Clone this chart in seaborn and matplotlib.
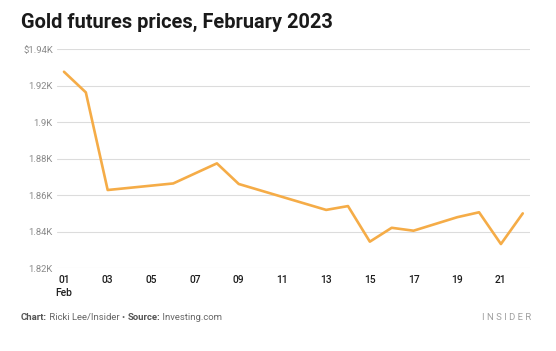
import pandas as pd
import seaborn as sns
import matplotlib.pyplot as plt

# Gold futures, Feb 2023
days = [1, 2, 3, 6, 8, 9, 13, 14, 15, 16, 17, 19, 20, 21, 22]
prices = [1927.7, 1916.4, 1862.9, 1866.5, 1877.5, 1866.2, 1852.0, 1854.1,
          1834.6, 1842.2, 1840.6, 1848.0, 1850.7, 1833.3, 1850.1]

y_ticks = [1820, 1840, 1860, 1880, 1900, 1920, 1940]
y_labels = ['1.82K', '1.84K', '1.86K', '1.88K', '1.9K', '1.92K', '$1.94K']
x_ticks = [1, 3, 5, 7, 9, 11, 13, 15, 17, 19, 21]
x_labels = ['01\nFeb', '03', '05', '07', '09', '11', '13', '15', '17', '19', '21']

title = 'Gold futures prices, February 2023'
LINE = '#F5AC47'


def main():
    df = pd.DataFrame({'day': days, 'price': prices})

    sns.set_theme(style='white')
    plt.rcParams['font.family'] = ['Roboto', 'DejaVu Sans']

    fig = plt.figure(figsize=(5.56, 3.51), dpi=100)
    ax = fig.add_axes([0.1025, 0.2356, 0.8507, 0.6239])

    sns.lineplot(data=df, x='day', y='price', ax=ax, color=LINE, linewidth=1.9)

    ax.set_xlim(0.68, 22.33)
    ax.set_ylim(1820, 1940)
    ax.set_yticks(y_ticks)
    ax.set_yticklabels(y_labels, color='#8a8a8a', fontsize=6.8)
    ax.set_xticks(x_ticks)
    ax.set_xticklabels(x_labels, color='#1e1e1e', fontsize=7.4, linespacing=1.3,
                       va='top', fontweight='medium')
    ax.tick_params(axis='y', length=0, pad=3)
    ax.tick_params(axis='x', length=0, pad=5)

    ax.grid(axis='y', color='#dcdcdc', linewidth=0.8)
    ax.set_axisbelow(True)
    sns.despine(ax=ax, left=True, bottom=True)
    ax.set_xlabel('')
    ax.set_ylabel('')

    fig.text(21 / 556, 1 - 22 / 351, title, fontsize=14.4, fontweight='bold',
             color='#1a1a1a', va='center', ha='left')

    # footer
    t1 = fig.text(21 / 556, 1 - 317 / 351, 'Chart:', fontsize=6.8,
                  fontweight='bold', color='#555555', va='center')
    t2 = ax.annotate(' Ricki Lee/Insider \u2022 ', xy=(1, 0.5), xycoords=t1,
                     fontsize=6.8, color='#666666', va='center')
    t3 = ax.annotate('Source:', xy=(1, 0.5), xycoords=t2, fontsize=6.8,
                     fontweight='bold', color='#555555', va='center')
    ax.annotate(' Investing.com', xy=(1, 0.5), xycoords=t3, fontsize=6.8,
                color='#666666', va='center')
    fig.text(531 / 556, 1 - 317 / 351, 'I N S I D E R', fontsize=6.8,
             color='#a0a0a0', ha='right', va='center')

    fig.savefig('out.png', dpi=100)


if __name__ == '__main__':
    main()
